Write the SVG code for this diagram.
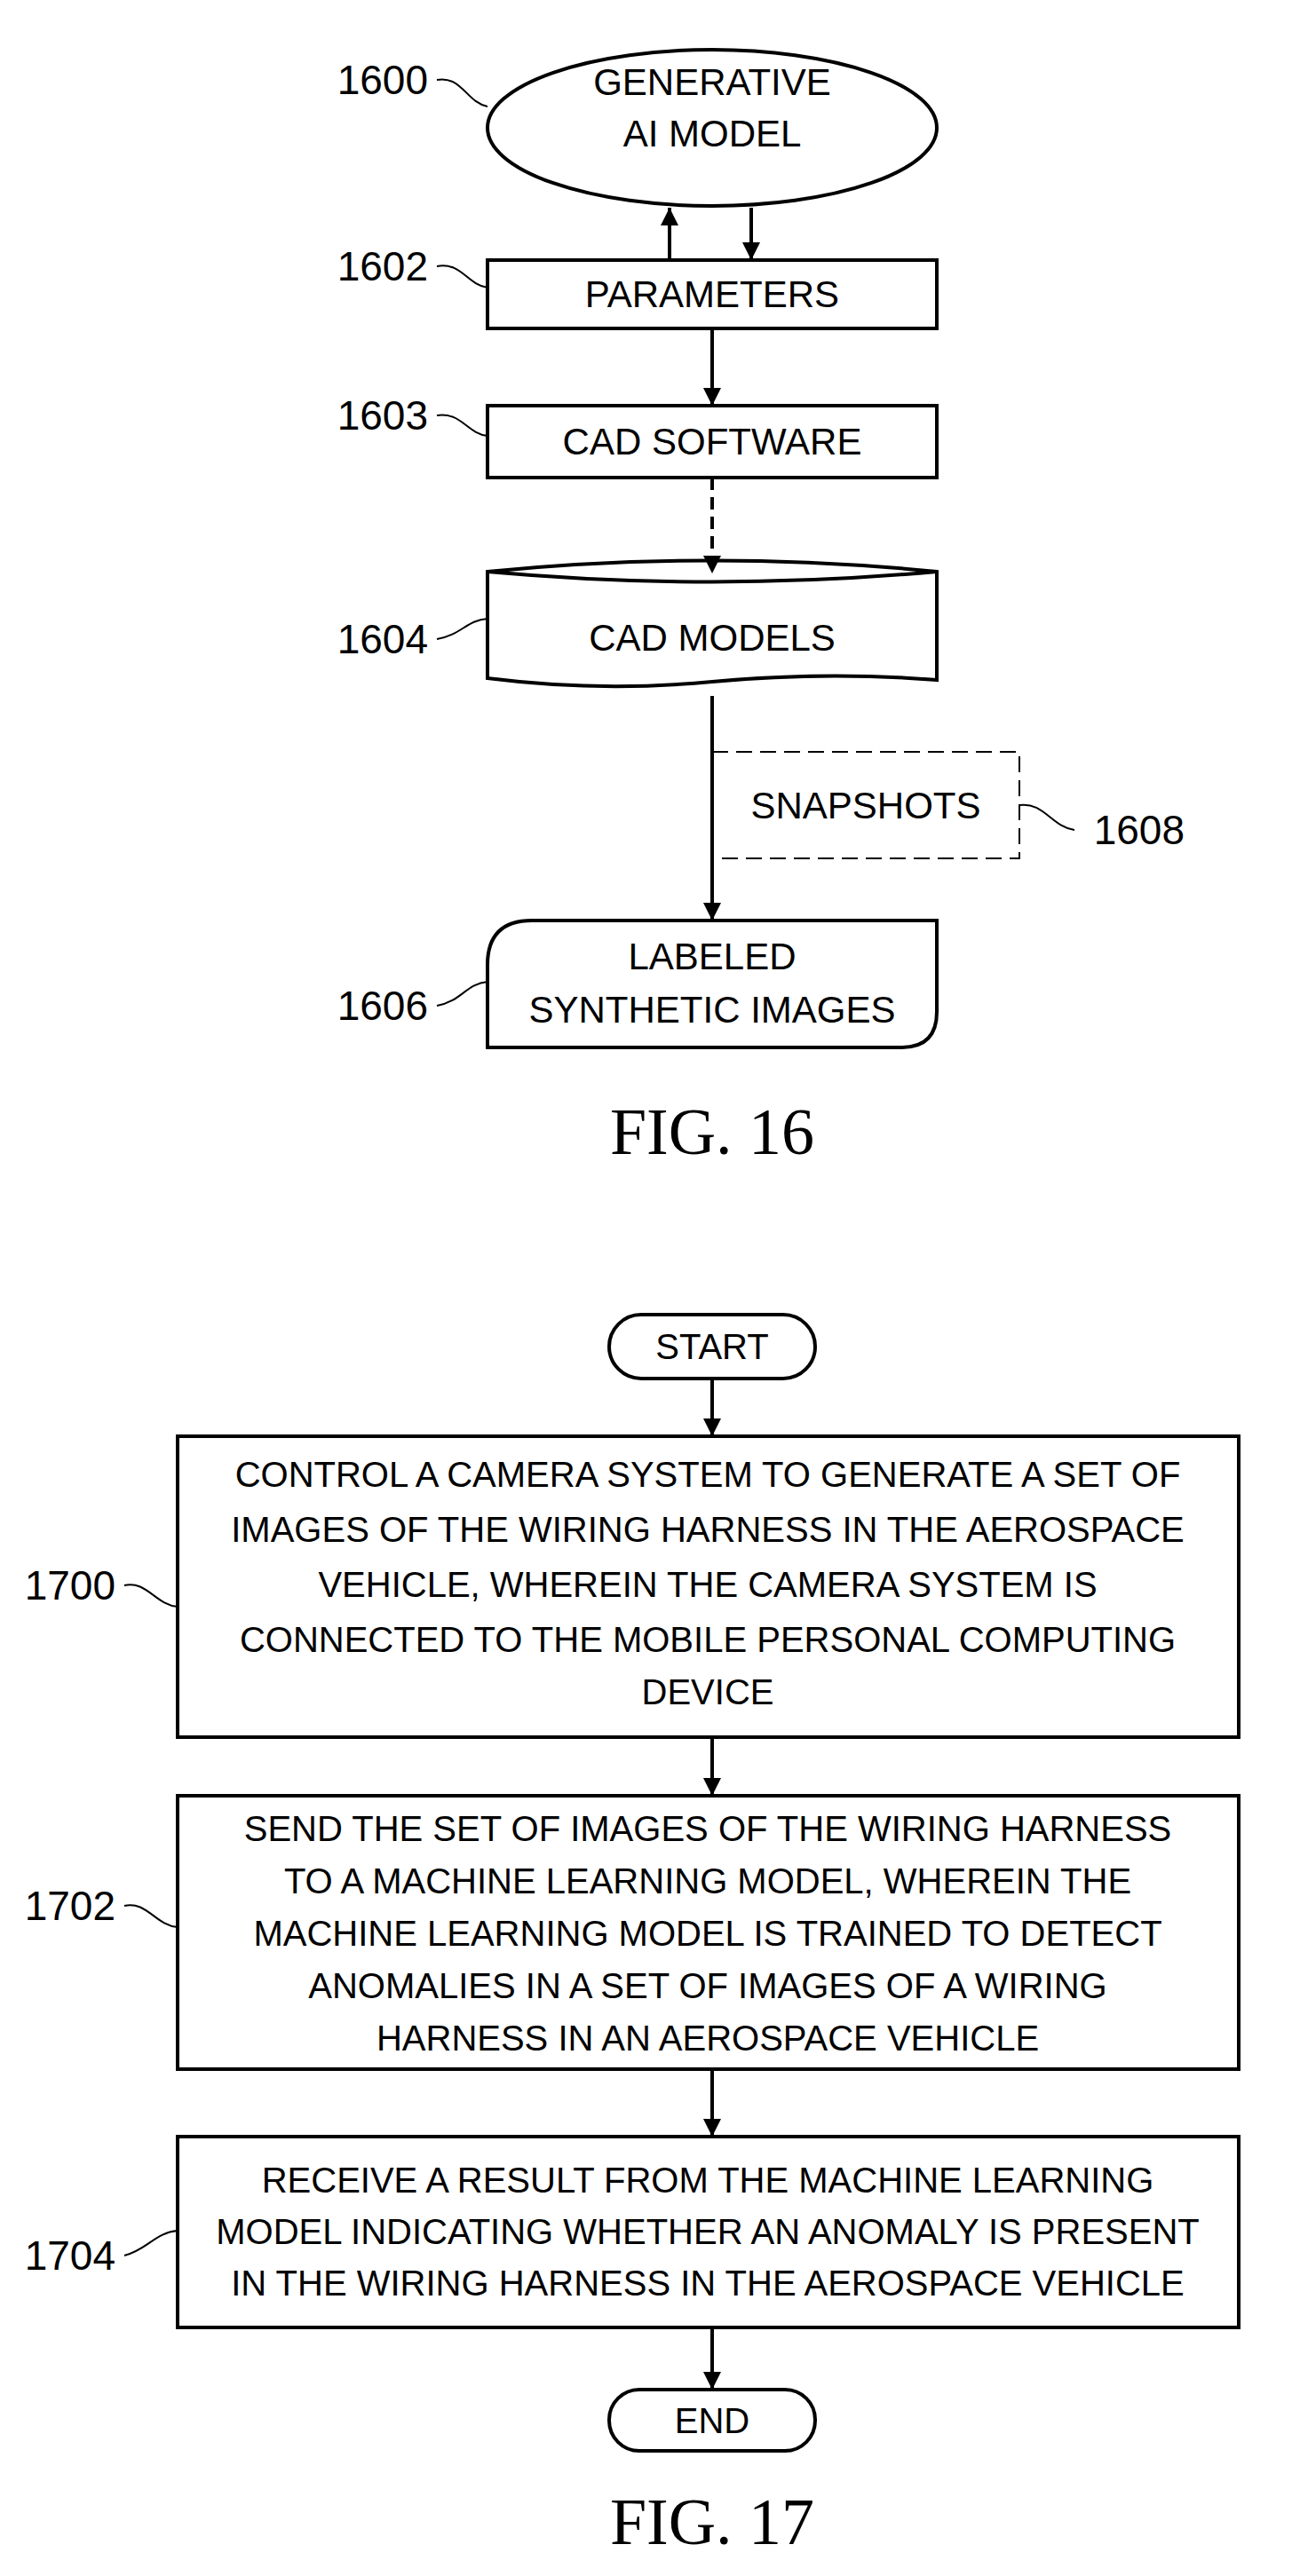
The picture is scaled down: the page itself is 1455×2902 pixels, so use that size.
<svg xmlns="http://www.w3.org/2000/svg" width="1455" height="2902" viewBox="0 0 1455 2902">
<style>
.s{fill:none;stroke:#000;stroke-width:4}
.l{fill:none;stroke:#000;stroke-width:2}
.t{font-family:"Liberation Sans",Arial,sans-serif;font-size:42px;text-anchor:middle;dominant-baseline:central}
.b{font-family:"Liberation Sans",Arial,sans-serif;font-size:40px;text-anchor:middle;dominant-baseline:central}
.n{font-family:"Liberation Sans",Arial,sans-serif;font-size:46px;text-anchor:end;dominant-baseline:central}
.f{font-family:"Liberation Serif","Times New Roman",serif;font-size:74px;text-anchor:middle}
</style>
<defs>
<marker id="ah" viewBox="0 0 10 10" refX="10" refY="5" markerWidth="5" markerHeight="5" orient="auto"><path d="M0,0L10,5L0,10z"/></marker>
</defs>
<g id="connectors">
<line class="s" x1="754" y1="293" x2="754" y2="234" marker-end="url(#ah)"/>
<line class="s" x1="846" y1="234" x2="846" y2="293" marker-end="url(#ah)"/>
<line class="s" x1="802" y1="370" x2="802" y2="457" marker-end="url(#ah)"/>
<line class="s" x1="802" y1="538" x2="802" y2="646" stroke-dasharray="14,8" marker-end="url(#ah)"/>
<line class="s" x1="802" y1="784" x2="802" y2="1037" marker-end="url(#ah)"/>
<line class="s" x1="802" y1="1553" x2="802" y2="1618" marker-end="url(#ah)"/>
<line class="s" x1="802" y1="1957" x2="802" y2="2023" marker-end="url(#ah)"/>
<line class="s" x1="802" y1="2331" x2="802" y2="2407" marker-end="url(#ah)"/>
<line class="s" x1="802" y1="2622" x2="802" y2="2692" marker-end="url(#ah)"/>
</g>
<g id="n1600">
<ellipse class="s" cx="802" cy="144" rx="253" ry="88" fill="#fff"/>
<text class="t" x="802" y="92">GENERATIVE</text><text class="t" x="802" y="150">AI MODEL</text>
<text class="n" x="482" y="90">1600</text><path class="l" d="M492,90 C520,85 525,115 549,120"/>
</g>
<g id="n1602">
<rect class="s" x="549" y="293" width="506" height="77" fill="#fff"/>
<text class="t" x="802" y="331">PARAMETERS</text>
<text class="n" x="482" y="300">1602</text><path class="l" d="M492,300 C520,295 525,320 549,324"/>
</g>
<g id="n1603">
<rect class="s" x="549" y="457" width="506" height="81" fill="#fff"/>
<text class="t" x="802" y="497">CAD SOFTWARE</text>
<text class="n" x="482" y="468">1603</text><path class="l" d="M492,468 C520,464 525,488 549,491"/>
</g>
<g id="n1604">
<path class="s" d="M549,644 Q802,619 1055,644 L1055,766 Q930,756 802,768 Q675,780 549,764 Z" fill="#fff"/>
<path class="s" d="M549,644 Q802,667 1055,644"/>
<text class="t" x="802" y="718">CAD MODELS</text>
<text class="n" x="482" y="720">1604</text><path class="l" d="M492,720 C520,715 525,699 549,697"/>
</g>
<g id="n1608">
<path class="l" d="M802,847 H1148 V967 H802" stroke-dasharray="18,9" stroke-width="2.5"/>
<text class="t" x="975" y="907">SNAPSHOTS</text>
<path class="l" d="M1148,907 C1175,903 1185,932 1210,935"/>
<text class="n" x="1334" y="935">1608</text>
</g>
<g id="n1606">
<path class="s" d="M599,1037 H1055 V1140 Q1055,1180 1015,1180 H549 V1087 Q549,1037 599,1037 Z" fill="#fff"/>
<text class="t" x="802" y="1077">LABELED</text><text class="t" x="802" y="1137">SYNTHETIC IMAGES</text>
<text class="n" x="482" y="1133">1606</text><path class="l" d="M492,1133 C520,1128 525,1108 549,1106"/>
</g>
<text class="f" x="802" y="1300">FIG. 16</text>
<g id="start">
<rect class="s" x="686" y="1481" width="232" height="72" rx="36" fill="#fff"/>
<text class="b" x="802" y="1517">START</text>
</g>
<g id="n1700">
<rect class="s" x="200" y="1618" width="1195" height="339" fill="#fff"/>
<text class="b" x="797" y="1661">CONTROL A CAMERA SYSTEM TO GENERATE A SET OF</text>
<text class="b" x="797" y="1723">IMAGES OF THE WIRING HARNESS IN THE AEROSPACE</text>
<text class="b" x="797" y="1785">VEHICLE, WHEREIN THE CAMERA SYSTEM IS</text>
<text class="b" x="797" y="1847">CONNECTED TO THE MOBILE PERSONAL COMPUTING</text>
<text class="b" x="797" y="1906">DEVICE</text>
<text class="n" x="130" y="1786">1700</text><path class="l" d="M140,1786 C165,1780 175,1808 200,1810"/>
</g>
<g id="n1702">
<rect class="s" x="200" y="2023" width="1195" height="308" fill="#fff"/>
<text class="b" x="797" y="2060">SEND THE SET OF IMAGES OF THE WIRING HARNESS</text>
<text class="b" x="797" y="2119">TO A MACHINE LEARNING MODEL, WHEREIN THE</text>
<text class="b" x="797" y="2178">MACHINE LEARNING MODEL IS TRAINED TO DETECT</text>
<text class="b" x="797" y="2237">ANOMALIES IN A SET OF IMAGES OF A WIRING</text>
<text class="b" x="797" y="2296">HARNESS IN AN AEROSPACE VEHICLE</text>
<text class="n" x="130" y="2147">1702</text><path class="l" d="M140,2147 C165,2141 175,2169 200,2171"/>
</g>
<g id="n1704">
<rect class="s" x="200" y="2407" width="1195" height="215" fill="#fff"/>
<text class="b" x="797" y="2456">RECEIVE A RESULT FROM THE MACHINE LEARNING</text>
<text class="b" x="797" y="2514">MODEL INDICATING WHETHER AN ANOMALY IS PRESENT</text>
<text class="b" x="797" y="2572">IN THE WIRING HARNESS IN THE AEROSPACE VEHICLE</text>
<text class="n" x="130" y="2541">1704</text><path class="l" d="M140,2541 C165,2535 175,2515 200,2513"/>
</g>
<g id="end">
<rect class="s" x="686" y="2692" width="232" height="69" rx="34" fill="#fff"/>
<text class="b" x="802" y="2727">END</text>
</g>
<text class="f" x="802" y="2866">FIG. 17</text>
</svg>
